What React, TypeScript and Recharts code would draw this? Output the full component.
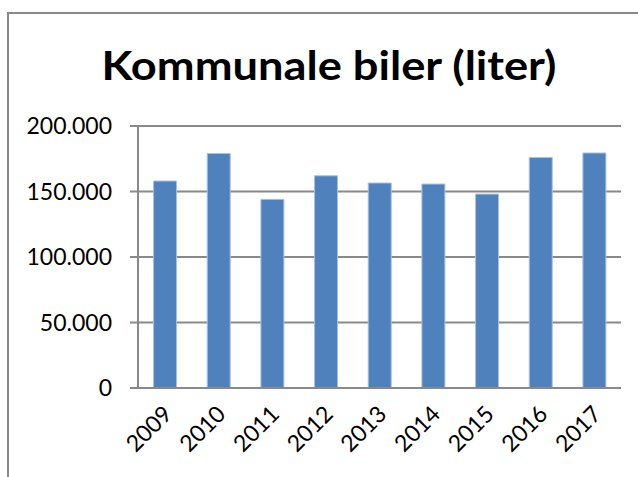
import React from "react";
import { BarChart, Bar, XAxis, YAxis, CartesianGrid } from "recharts";

const years = ["2009", "2010", "2011", "2012", "2013", "2014", "2015", "2016", "2017"];
const liters = [158000, 179000, 144000, 162000, 156500, 155700, 148000, 176000, 179400];
const yTicks = [0, 50000, 100000, 150000, 200000];
const markTicks = [0, 1, 2, 3, 4, 5, 6, 7, 8, 9];

const data = years.map((year, i) => ({ year, liters: liters[i] }));

// Danish thousands separator
const fmt = (v: number) => String(v).replace(/\B(?=(\d{3})+(?!\d))/g, ".");

const GRAY = "#898989";
const FONT = "Lato, 'Open Sans', sans-serif";

const App = () => {
  return (
    <div style={{ position: "absolute", left: 0, top: 0, width: 638, height: 477, overflow: "hidden", background: "#fff" }}>
      <div
        style={{
          position: "absolute",
          left: 7,
          top: 12,
          width: 660,
          height: 500,
          border: `2px solid ${GRAY}`,
          boxSizing: "border-box",
        }}
      />
      <svg width={638} height={110} style={{ position: "absolute", left: 0, top: 0 }}>
        <text
          x={329}
          y={80}
          textAnchor="middle"
          fontFamily={FONT}
          fontWeight={700}
          fontSize={41}
          textLength={455}
          lengthAdjust="spacingAndGlyphs"
          fill="#000"
        >
          Kommunale biler (liter)
        </text>
      </svg>
      <div style={{ position: "absolute", left: 0, top: 0 }}>
        <BarChart
          width={638}
          height={477}
          data={data}
          margin={{ top: 126, right: 17, bottom: 0, left: 0 }}
          barCategoryGap="29%"
        >
          <CartesianGrid vertical={false} stroke={GRAY} strokeWidth={2} />
          {/* tick marks between categories, Excel style (inner axis) */}
          <XAxis
            xAxisId="a_marks"
            type="number"
            domain={[0, 9]}
            ticks={markTicks}
            allowDataOverflow
            height={7}
            tickSize={7}
            tick={false}
            stroke={GRAY}
            axisLine={{ stroke: GRAY, strokeWidth: 2 }}
            tickLine={{ stroke: GRAY, strokeWidth: 2 }}
          />
          {/* year labels (outer axis) */}
          <XAxis
            xAxisId="b_cat"
            dataKey="year"
            height={82}
            axisLine={false}
            tickLine={false}
            tickSize={0}
            tickMargin={9}
            interval={0}
            angle={-45}
            textAnchor="end"
            dx={-3}
            tick={{ fill: "#000", fontSize: 23, fontFamily: FONT }}
          />
          <YAxis
            domain={[0, 200000]}
            ticks={yTicks}
            width={138}
            tickSize={8}
            tickMargin={18}
            tickFormatter={fmt}
            axisLine={{ stroke: GRAY, strokeWidth: 2 }}
            tickLine={{ stroke: GRAY, strokeWidth: 2 }}
            tick={{ fill: "#000", fontSize: 23, fontFamily: FONT }}
          />
          <Bar
            xAxisId="b_cat"
            dataKey="liters"
            fill="#4F81BD"
            stroke="#a9c1df"
            strokeWidth={1}
            isAnimationActive={false}
          />
        </BarChart>
      </div>
    </div>
  );
};

export default App;
